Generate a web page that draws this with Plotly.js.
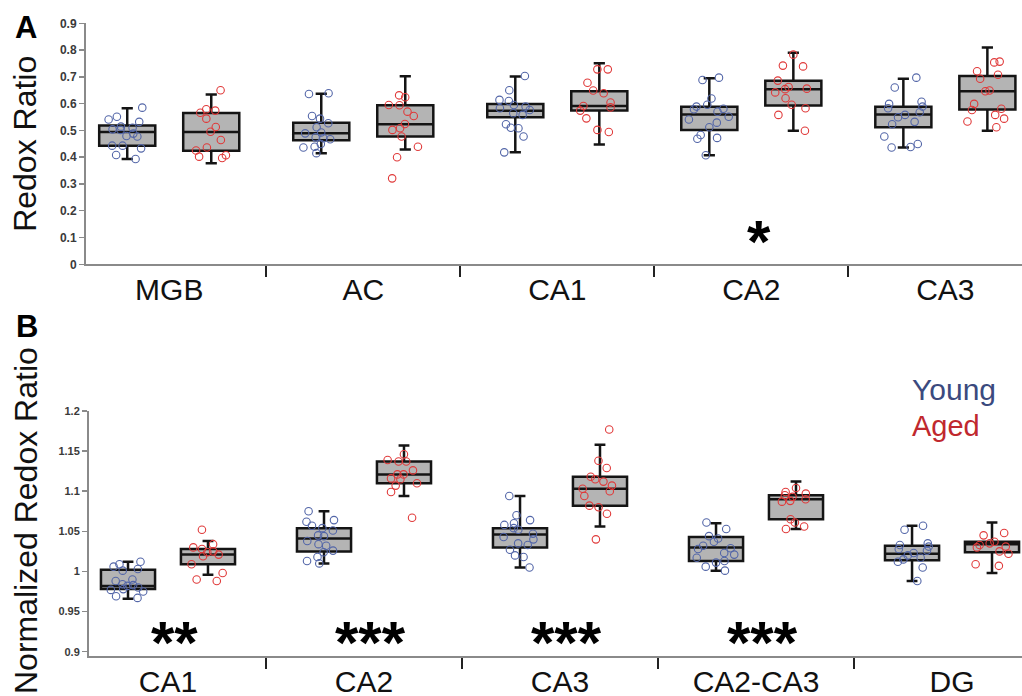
<!DOCTYPE html>
<html><head><meta charset="utf-8">
<script src="https://cdn.plot.ly/plotly-3.0.1.min.js"></script>
<style>html,body{margin:0;padding:0;background:#fff}#chart{width:1022px;height:696px}</style>
</head><body><div id="chart"></div>
<script>
// ---------- Panel A: Redox Ratio ----------
const regionsA = ['MGB', 'AC', 'CA1', 'CA2', 'CA3'];
const youngLowA = [0.393, 0.415, 0.418, 0.407, 0.436];
const youngQ1A  = [0.443, 0.463, 0.549, 0.502, 0.512];
const youngMedA = [0.494, 0.489, 0.573, 0.559, 0.559];
const youngQ3A  = [0.518, 0.529, 0.599, 0.588, 0.588];
const youngHighA= [0.583, 0.637, 0.701, 0.695, 0.693];
const agedLowA  = [0.377, 0.429, 0.447, 0.499, 0.499];
const agedQ1A   = [0.424, 0.477, 0.574, 0.593, 0.578];
const agedMedA  = [0.494, 0.523, 0.591, 0.654, 0.646];
const agedQ3A   = [0.565, 0.594, 0.646, 0.685, 0.703];
const agedHighA = [0.634, 0.702, 0.751, 0.790, 0.810];
const youngPtsA = [
  [0.585, 0.551, 0.541, 0.532, 0.514, 0.510, 0.504, 0.502, 0.488, 0.479, 0.477, 0.443, 0.443, 0.433, 0.408, 0.393],
  [0.639, 0.636, 0.554, 0.544, 0.527, 0.512, 0.492, 0.489, 0.474, 0.471, 0.467, 0.449, 0.439, 0.436, 0.415],
  [0.703, 0.650, 0.614, 0.610, 0.595, 0.589, 0.583, 0.576, 0.564, 0.558, 0.523, 0.510, 0.508, 0.477, 0.418],
  [0.697, 0.688, 0.619, 0.596, 0.589, 0.581, 0.579, 0.570, 0.551, 0.541, 0.529, 0.512, 0.483, 0.472, 0.469, 0.407],
  [0.697, 0.660, 0.607, 0.599, 0.589, 0.583, 0.568, 0.558, 0.549, 0.532, 0.523, 0.477, 0.449, 0.438, 0.436]
];
const agedPtsA = [
  [0.650, 0.579, 0.574, 0.566, 0.544, 0.513, 0.495, 0.464, 0.436, 0.425, 0.407, 0.402, 0.397],
  [0.631, 0.624, 0.595, 0.594, 0.570, 0.554, 0.524, 0.508, 0.502, 0.477, 0.439, 0.400, 0.321],
  [0.728, 0.728, 0.678, 0.649, 0.639, 0.604, 0.591, 0.586, 0.574, 0.545, 0.502, 0.494],
  [0.783, 0.742, 0.739, 0.686, 0.662, 0.656, 0.654, 0.642, 0.620, 0.596, 0.583, 0.558, 0.499],
  [0.757, 0.754, 0.721, 0.708, 0.693, 0.649, 0.646, 0.599, 0.581, 0.576, 0.558, 0.544, 0.533, 0.512]
];
const tickValsA = [0, 0.1, 0.2, 0.3, 0.4, 0.5, 0.6, 0.7, 0.8, 0.9];
const tickTextA = ['0', '0.1', '0.2', '0.3', '0.4', '0.5', '0.6', '0.7', '0.8', '0.9'];
const starsA = ['', '', '', '*', ''];

// ---------- Panel B: Normalized Redox Ratio ----------
const regionsB = ['CA1', 'CA2', 'CA3', 'CA2-CA3', 'DG'];
const youngLowB = [0.966, 1.010, 1.005, 1.001, 0.988];
const youngQ1B  = [0.978, 1.025, 1.030, 1.013, 1.014];
const youngMedB = [0.982, 1.041, 1.046, 1.030, 1.022];
const youngQ3B  = [1.002, 1.054, 1.054, 1.043, 1.032];
const youngHighB= [1.012, 1.075, 1.094, 1.060, 1.057];
const agedLowB  = [0.996, 1.094, 1.056, 1.053, 0.998];
const agedQ1B   = [1.009, 1.110, 1.082, 1.065, 1.024];
const agedMedB  = [1.021, 1.121, 1.103, 1.090, 1.034];
const agedQ3B   = [1.028, 1.137, 1.118, 1.095, 1.037];
const agedHighB = [1.038, 1.157, 1.158, 1.112, 1.061];
const youngPtsB = [
  [1.012, 1.009, 1.006, 1.003, 1.001, 0.990, 0.988, 0.984, 0.983, 0.982, 0.980, 0.978, 0.977, 0.975, 0.969, 0.967],
  [1.075, 1.064, 1.062, 1.057, 1.054, 1.051, 1.045, 1.044, 1.038, 1.034, 1.032, 1.026, 1.024, 1.018, 1.013, 1.010],
  [1.094, 1.070, 1.064, 1.060, 1.058, 1.054, 1.052, 1.047, 1.043, 1.040, 1.035, 1.033, 1.027, 1.020, 1.018, 1.005],
  [1.061, 1.053, 1.044, 1.041, 1.037, 1.032, 1.029, 1.028, 1.023, 1.021, 1.017, 1.013, 1.011, 1.006, 1.001],
  [1.057, 1.052, 1.035, 1.033, 1.031, 1.028, 1.026, 1.023, 1.020, 1.017, 1.015, 1.012, 1.005, 0.988]
];
const agedPtsB = [
  [1.052, 1.034, 1.030, 1.028, 1.025, 1.024, 1.021, 1.019, 1.009, 0.998, 0.990, 0.988],
  [1.146, 1.139, 1.137, 1.137, 1.126, 1.121, 1.121, 1.116, 1.115, 1.110, 1.107, 1.099, 1.067],
  [1.177, 1.138, 1.129, 1.118, 1.115, 1.112, 1.107, 1.103, 1.100, 1.094, 1.082, 1.080, 1.072, 1.040],
  [1.104, 1.099, 1.097, 1.095, 1.093, 1.090, 1.088, 1.087, 1.065, 1.061, 1.056, 1.053],
  [1.048, 1.045, 1.037, 1.035, 1.033, 1.031, 1.030, 1.025, 1.022, 1.009, 1.007]
];
const tickValsB = [0.9, 0.95, 1, 1.05, 1.1, 1.15, 1.2];
const tickTextB = ['0.9', '0.95', '1', '1.05', '1.1', '1.15', '1.2'];
const starsB = ['**', '***', '***', '***', ''];

const seriesNames = ['Young', 'Aged'];
const titleA = 'Redox Ratio';
const titleB = 'Normalized Redox Ratio';

// ---------- styling ----------
const FONT = 'Liberation Sans, Arial, sans-serif';
const BOX_FILL = '#b4b4b4';
const BOX_LINE = '#141414';
const PT_BLUE = '#5366a8';
const PT_RED = '#e03a3a';
const TXT_BLUE = '#3b4a7e';
const TXT_RED = '#c0282e';

function boxTrace(xa, ya, pos, lo, q1, med, q3, hi, w) {
  return {
    type: 'box', xaxis: xa, yaxis: ya, x: pos,
    lowerfence: lo, q1: q1, median: med, q3: q3, upperfence: hi,
    width: w, boxpoints: false, whiskerwidth: 0.2,
    fillcolor: BOX_FILL, line: { color: BOX_LINE, width: 2.5 },
    showlegend: false, hoverinfo: 'skip'
  };
}
function pointTrace(xa, ya, pos, pts, color, w) {
  const xs = [], ys = [];
  pts.forEach((arr, i) => arr.forEach(v => { xs.push(pos[i]); ys.push(v); }));
  return {
    type: 'box', xaxis: xa, yaxis: ya, x: xs, y: ys,
    width: w, boxpoints: 'all', jitter: 0.75, pointpos: 0,
    fillcolor: 'rgba(0,0,0,0)', line: { color: 'rgba(0,0,0,0)', width: 0 },
    whiskerwidth: 0,
    marker: { symbol: 'circle-open', size: 7.5, color: color, line: { color: color, width: 1.1 } },
    showlegend: false, hoverinfo: 'skip'
  };
}

const offA = 0.2165, wA = 0.289;
const offB = 0.204, wB = 0.276;
const idxA = regionsA.map((_, i) => i);
const idxB = regionsB.map((_, i) => i);
const yPosA = idxA.map(i => i - offA), aPosA = idxA.map(i => i + offA);
const yPosB = idxB.map(i => i - offB), aPosB = idxB.map(i => i + offB);

const data = [
  boxTrace('x', 'y', yPosA, youngLowA, youngQ1A, youngMedA, youngQ3A, youngHighA, wA),
  boxTrace('x', 'y', aPosA, agedLowA, agedQ1A, agedMedA, agedQ3A, agedHighA, wA),
  pointTrace('x', 'y', yPosA, youngPtsA, PT_BLUE, wA),
  pointTrace('x', 'y', aPosA, agedPtsA, PT_RED, wA),
  boxTrace('x2', 'y2', yPosB, youngLowB, youngQ1B, youngMedB, youngQ3B, youngHighB, wB),
  boxTrace('x2', 'y2', aPosB, agedLowB, agedQ1B, agedMedB, agedQ3B, agedHighB, wB),
  pointTrace('x2', 'y2', yPosB, youngPtsB, PT_BLUE, wB),
  pointTrace('x2', 'y2', aPosB, agedPtsB, PT_RED, wB)
];

function xAxis(domain, range, labels, yanchor) {
  return {
    domain: domain, range: range, anchor: yanchor,
    tickmode: 'array', tickvals: labels.map((_, i) => i), ticktext: labels,
    ticks: '', ticklabelstandoff: -2,
    tickfont: { family: FONT, size: 30, color: '#111' },
    showline: true, linecolor: '#8a8a8a', linewidth: 2,
    showgrid: false, zeroline: false, fixedrange: true,
    minor: { tickmode: 'array', tickvals: labels.slice(1).map((_, i) => i + 0.5),
             ticks: 'outside', ticklen: 11, tickwidth: 2, tickcolor: '#222', showgrid: false }
  };
}
function yAxis(domain, range, vals, text, title, xanchor, fs, standoff) {
  return {
    domain: domain, range: range, anchor: xanchor,
    tickmode: 'array', tickvals: vals, ticktext: text,
    ticks: 'outside', ticklen: 5, tickwidth: 1.5, tickcolor: '#8a8a8a',
    tickfont: { family: FONT, size: fs, color: '#3a3a3a', weight: 'bold' },
    showline: true, linecolor: '#8a8a8a', linewidth: 2,
    showgrid: false, zeroline: false, fixedrange: true,
    title: { text: title, font: { family: FONT, size: 32, color: '#111' }, standoff: standoff }
  };
}

const W = 1022, H = 696;
const annotations = [
  { text: 'A', xref: 'paper', yref: 'paper', x: 26 / W, y: 1 - 27.5 / H, showarrow: false,
    font: { family: FONT, size: 31, color: '#000', weight: 'bold' }, xanchor: 'center', yanchor: 'middle' },
  { text: 'B', xref: 'paper', yref: 'paper', x: 27 / W, y: 1 - 326 / H, showarrow: false,
    font: { family: FONT, size: 31, color: '#000', weight: 'bold' }, xanchor: 'center', yanchor: 'middle' },
  { text: titleB, xref: 'paper', yref: 'paper', x: 26 / W, y: 1 - 521 / H, showarrow: false, textangle: -90,
    font: { family: FONT, size: 32, color: '#111' }, xanchor: 'center', yanchor: 'middle' },
  { text: seriesNames[0], xref: 'paper', yref: 'paper', x: 910 / W, y: 1 - 389 / H, showarrow: false,
    font: { family: FONT, size: 30, color: TXT_BLUE }, xanchor: 'left', yanchor: 'middle' },
  { text: seriesNames[1], xref: 'paper', yref: 'paper', x: 910 / W, y: 1 - 426 / H, showarrow: false,
    font: { family: FONT, size: 29, color: TXT_RED }, xanchor: 'left', yanchor: 'middle' }
];
starsA.forEach((s, i) => { if (s) annotations.push({ text: s, xref: 'x', yref: 'paper', x: i + 0.04, y: 1 - 242 / H,
  showarrow: false, font: { family: FONT, size: 60, color: '#000', weight: 'bold' }, xanchor: 'center', yanchor: 'middle' }); });
starsB.forEach((s, i) => { if (s) annotations.push({ text: s, xref: 'x2', yref: 'paper', x: i + 0.035, y: 1 - 642 / H,
  showarrow: false, font: { family: FONT, size: 60, color: '#000', weight: 'bold' }, xanchor: 'center', yanchor: 'middle' }); });

const layout = {
  width: W, height: H, margin: { l: 0, r: 0, t: 0, b: 0 },
  paper_bgcolor: '#fff', plot_bgcolor: '#fff', showlegend: false,
  boxmode: 'overlay',
  xaxis: xAxis([86 / W, 1], [-0.429, 4.395], regionsA, 'y'),
  yaxis: yAxis([1 - 264.3 / H, 1 - 23.3 / H], [0, 0.9], tickValsA, tickTextA, titleA, 'x', 12, 14),
  xaxis2: xAxis([89 / W, 1], [-0.403, 4.357], regionsB, 'y2'),
  yaxis2: yAxis([1 - 656 / H, 1 - 411 / H], [0.8946, 1.2], tickValsB, tickTextB, '', 'x2', 11, 10),
  annotations: annotations
};

Plotly.newPlot('chart', data, layout, { staticPlot: true, displayModeBar: false });
</script></body></html>
